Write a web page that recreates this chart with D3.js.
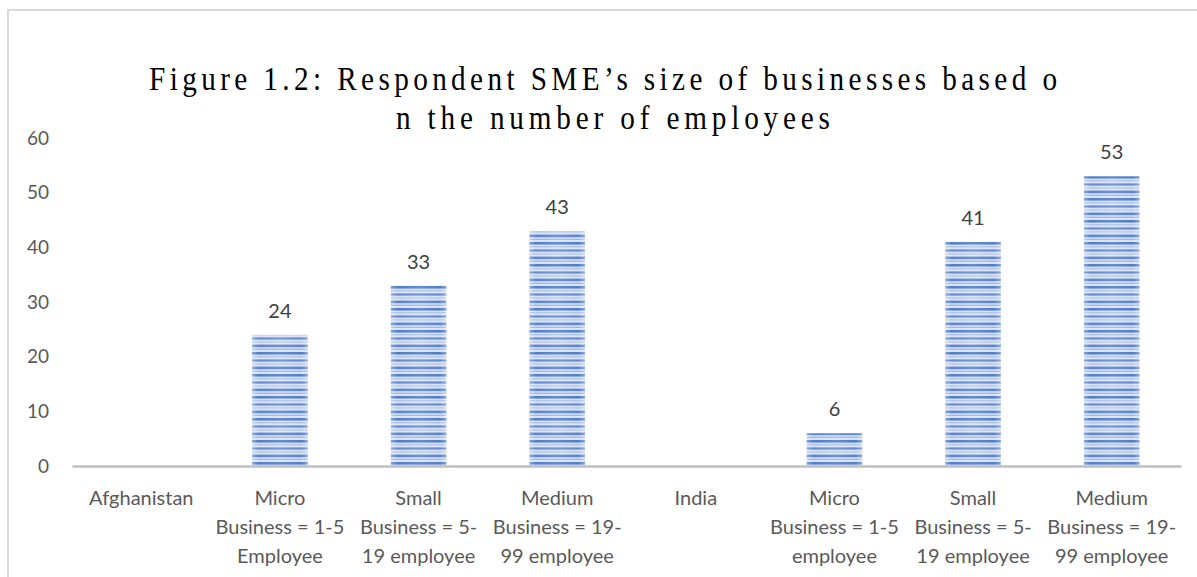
<!DOCTYPE html>
<html>
<head>
<meta charset="utf-8">
<script src="https://cdn.jsdelivr.net/npm/d3@7"></script>
<style>
  html, body { margin: 0; padding: 0; background: #ffffff; }
  svg { display: block; }
</style>
</head>
<body>
<svg id="chart" width="1197" height="577"></svg>
<script>
// Category labels (each line of a wrapped label is an entry)
const categories = [
  ["Afghanistan"],
  ["Micro", "Business = 1-5", "Employee"],
  ["Small", "Business = 5-", "19 employee"],
  ["Medium", "Business = 19-", "99 employee"],
  ["India"],
  ["Micro", "Business = 1-5", "employee"],
  ["Small", "Business = 5-", "19 employee"],
  ["Medium", "Business = 19-", "99 employee"]
];
// Number of respondents per category (null = group heading, no bar)
const values = [null, 24, 33, 43, null, 6, 41, 53];
const yTicks = [0, 10, 20, 30, 40, 50, 60];
const titleLines = [
  "Figure 1.2: Respondent SME’s size of businesses based o",
  "n the number of employees"
];

const svg = d3.select("#chart");
const W = 1197, H = 577;
const plot = { left: 72, right: 1181, top: 138, bottom: 466 };
const labelFont = "Lato, 'Open Sans', sans-serif";

const x = d3.scaleBand()
  .domain(d3.range(categories.length))
  .range([plot.left, plot.right])
  .paddingInner(0.6).paddingOuter(0.3);
const band = d3.scaleBand()
  .domain(d3.range(categories.length))
  .range([plot.left, plot.right]);
const y = d3.scaleLinear().domain([0, 60]).range([plot.bottom, plot.top]);

// Striped fill for the bars
const defs = svg.append("defs");
const pat = defs.append("pattern")
  .attr("id", "stripes")
  .attr("patternUnits", "userSpaceOnUse")
  .attr("width", 10).attr("height", 22);
pat.append("rect").attr("width", 10).attr("height", 22).attr("fill", "#d8e2f5");
const stripeRows = [
  [0, 2.6, 0.9], [4.3, 1.0, 0.4], [7.4, 2.2, 0.8],
  [11.4, 1.0, 0.35], [14.6, 2.6, 0.85], [18.6, 1.2, 0.45]
];
stripeRows.forEach(([yy, h, o]) => {
  pat.append("rect").attr("x", 0).attr("y", yy).attr("width", 10).attr("height", h)
    .attr("fill", "#4472c4").attr("opacity", o);
});
const shade = defs.append("linearGradient").attr("id", "edgeShade")
  .attr("x1", "0").attr("x2", "1").attr("y1", "0").attr("y2", "0");
shade.append("stop").attr("offset", "0%").attr("stop-color", "#ffffff").attr("stop-opacity", 0.3);
shade.append("stop").attr("offset", "12%").attr("stop-color", "#ffffff").attr("stop-opacity", 0.0);
shade.append("stop").attr("offset", "50%").attr("stop-color", "#ffffff").attr("stop-opacity", 0.12);
shade.append("stop").attr("offset", "88%").attr("stop-color", "#ffffff").attr("stop-opacity", 0.0);
shade.append("stop").attr("offset", "100%").attr("stop-color", "#ffffff").attr("stop-opacity", 0.3);

// Outer chart frame (open on the right and bottom)
svg.append("path")
  .attr("d", `M8,${H + 5} L8,10 L${W + 5},10`)
  .attr("fill", "none").attr("stroke", "#d9d9d9").attr("stroke-width", 2);

// Title: condensed serif with wide tracking
const titleScale = 0.86;
const title = svg.append("g")
  .attr("transform", `translate(603,0) scale(${titleScale},1)`)
  .attr("font-family", "'Liberation Serif', 'Times New Roman', serif")
  .attr("fill", "#000000").attr("font-size", 34);
title.append("text").attr("x", 0).attr("y", 90).attr("text-anchor", "middle")
  .attr("textLength", 908 / titleScale).attr("lengthAdjust", "spacing")
  .text(titleLines[0]);
title.append("text").attr("x", 10 / titleScale).attr("y", 129).attr("text-anchor", "middle")
  .attr("textLength", 434 / titleScale).attr("lengthAdjust", "spacing")
  .text(titleLines[1]);

// Y axis labels (no axis line, no gridlines)
const yAxis = d3.axisLeft(y).tickValues(yTicks).tickSize(0).tickPadding(0);
const yG = svg.append("g").attr("transform", `translate(49,0)`).call(yAxis);
yG.select(".domain").remove();
yG.selectAll("text")
  .attr("font-family", labelFont)
  .attr("font-size", 19).attr("fill", "#595959");

// Bars
const data = values.map((v, i) => ({ i, v })).filter(d => d.v !== null);
svg.append("g").selectAll("rect.bar").data(data).join("rect")
  .attr("class", "bar")
  .attr("x", d => x(d.i)).attr("width", x.bandwidth())
  .attr("y", d => y(d.v)).attr("height", d => y(0) - y(d.v))
  .attr("fill", "url(#stripes)");
svg.append("g").selectAll("rect.shade").data(data).join("rect")
  .attr("class", "shade")
  .attr("x", d => x(d.i)).attr("width", x.bandwidth())
  .attr("y", d => y(d.v)).attr("height", d => y(0) - y(d.v))
  .attr("fill", "url(#edgeShade)");

// Value labels
svg.append("g").selectAll("text").data(data).join("text")
  .attr("x", d => x(d.i) + x.bandwidth() / 2)
  .attr("y", d => y(d.v) - 17)
  .attr("text-anchor", "middle")
  .attr("font-family", labelFont)
  .attr("font-size", 20).attr("fill", "#404040")
  .text(d => d.v);

// Baseline
const xAxis = d3.axisBottom(band).tickSize(0).tickFormat("");
const xG = svg.append("g").attr("transform", `translate(0,${plot.bottom})`).call(xAxis);
xG.select(".domain").attr("stroke", "#bfbfbf").attr("stroke-width", 2.5);

// Category labels
const catG = svg.append("g")
  .attr("font-family", labelFont)
  .attr("font-size", 20).attr("fill", "#595959").attr("text-anchor", "middle");
categories.forEach((lines, i) => {
  const cx = band(i) + band.bandwidth() / 2;
  const t = catG.append("text").attr("x", cx).attr("y", 505);
  lines.forEach((ln, k) => {
    t.append("tspan").attr("x", cx).attr("dy", k === 0 ? 0 : 29).text(ln);
  });
});
</script>
</body>
</html>
